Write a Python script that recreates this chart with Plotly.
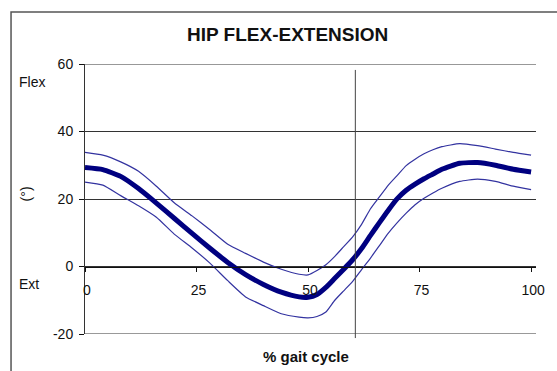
import plotly.graph_objects as go

# % of gait cycle at which each curve is sampled
gait_pct = [0, 4, 8, 12, 16, 20, 24, 28, 32, 36, 40, 44, 48, 50, 52, 54, 56,
            58, 60, 62, 64, 66, 68, 70, 72, 74, 76, 78, 80, 84, 88, 92, 96, 100]

# Hip flexion(+)/extension(-) angle in degrees
mean_angle = [29.3, 28.7, 26.7, 23.1, 18.8, 14.3, 9.8, 5.4, 1.2, -2.4, -5.3,
              -7.6, -9.0, -9.1, -8.3, -6.2, -3.5, -0.8, 2.0, 5.3, 9.2, 13.0,
              16.7, 20.1, 22.6, 24.4, 26.0, 27.4, 28.8, 30.6, 30.8, 30.0,
              28.8, 28.0]
upper_angle = [33.8, 33.0, 31.0, 28.2, 23.8, 18.9, 15.0, 10.9, 6.6, 3.9, 1.3,
               -0.8, -2.3, -2.5, -1.2, 0.5, 3.0, 5.9, 8.8, 12.5, 17.1, 20.6,
               24.1, 27.0, 29.9, 31.8, 33.4, 34.6, 35.5, 36.4, 35.8, 34.8,
               33.8, 33.0]
lower_angle = [25.0, 24.1, 21.0, 18.0, 14.6, 9.6, 5.5, 1.0, -4.2, -9.0, -11.6,
               -14.0, -15.0, -15.2, -14.8, -13.5, -10.0, -7.2, -4.4, -0.9, 2.5,
               6.2, 9.9, 13.0, 15.8, 18.3, 20.2, 21.8, 23.2, 25.2, 25.9, 25.2,
               23.8, 22.8]

toe_off_pct = 60.6
x_ticks = [0, 25, 50, 75, 100]
y_ticks = [-20, 0, 20, 40, 60]
y_tick_text = ["-20", "0", "20", "40", "60"]
y_min, y_max = -20, 60

FONT = "Liberation Sans, Arial, sans-serif"
BAND = "#3333a0"
MEAN = "#000080"
GRID = "#333"

fig = go.Figure()
for band in (upper_angle, lower_angle):
    fig.add_trace(go.Scatter(x=gait_pct, y=band, mode="lines",
                             line=dict(color=BAND, width=1.2, shape="spline", smoothing=0.5),
                             hoverinfo="skip"))
fig.add_trace(go.Scatter(x=gait_pct, y=mean_angle, mode="lines",
                         line=dict(color=MEAN, width=5, shape="spline", smoothing=0.5)))

fig.update_layout(
    width=557, height=371,
    margin=dict(l=85, r=15, t=64, b=37),
    paper_bgcolor="white", plot_bgcolor="white",
    showlegend=False,
    font=dict(family=FONT, size=14, color="#111"),
    xaxis=dict(range=[0, 101.1], tickvals=x_ticks, ticks="outside", ticklen=4,
               tickcolor="#111", showgrid=False, zeroline=False,
               showline=True, linecolor="#111", linewidth=1,
               anchor="free", position=0.25, tickfont=dict(size=14),
               ticklabelstandoff=7, ticklabelshift=2),
    yaxis=dict(range=[y_min, y_max], tickvals=y_ticks, ticktext=y_tick_text,
               ticks="outside", ticklen=5,
               tickcolor="#111", showgrid=True, gridcolor=GRID, gridwidth=1,
               zeroline=False, showline=True, linecolor=GRID, linewidth=1,
               tickfont=dict(size=14), ticklabelstandoff=3),
    shapes=[
        # outer chart frame
        dict(type="rect", xref="paper", yref="paper", x0=-0.164, x1=1.3,
             y0=-0.4, y1=1.1926, line=dict(color="#555", width=1.5)),
        # gridlines on the top and bottom edges of the plot area
        dict(type="line", xref="paper", yref="y", x0=0, x1=1, y0=y_max, y1=y_max,
             line=dict(color=GRID, width=1)),
        dict(type="line", xref="paper", yref="y", x0=0, x1=1, y0=y_min, y1=y_min,
             line=dict(color=GRID, width=1)),
        # toe-off marker
        dict(type="line", xref="x", yref="paper", x0=toe_off_pct, x1=toe_off_pct,
             y0=-0.015, y1=0.978, line=dict(color="#444", width=1)),
    ],
    annotations=[
        dict(text="<b>HIP FLEX-EXTENSION</b>", xref="paper", yref="paper",
             x=0.4486, y=1.109, showarrow=False, font=dict(size=19, color="#111"),
             xanchor="center", yanchor="middle"),
        dict(text="<b>% gait cycle</b>", xref="paper", yref="paper",
             x=0.490, y=-0.085, showarrow=False, font=dict(size=15, color="#111"),
             xanchor="center", yanchor="middle"),
        dict(text="Flex", xref="paper", yref="paper", x=-0.1516, y=0.933,
             showarrow=False, xanchor="left", yanchor="middle"),
        dict(text="Ext", xref="paper", yref="paper", x=-0.1516, y=0.187,
             showarrow=False, xanchor="left", yanchor="middle"),
        dict(text="(°)", xref="paper", yref="paper", x=-0.130, y=0.5185,
             showarrow=False, textangle=-90, xanchor="center", yanchor="middle"),
    ],
)

fig.write_html("out.html")
